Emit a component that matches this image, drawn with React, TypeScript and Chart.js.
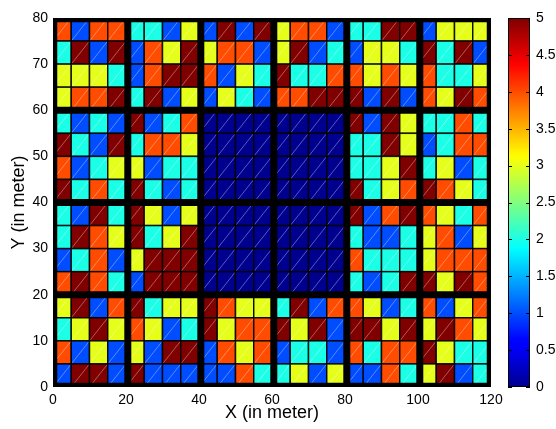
import { useEffect, useRef } from "react";
import { Chart, registerables } from "chart.js";
Chart.register(...registerables);

const xTicks = [0, 20, 40, 60, 80, 100, 120];
const yTicks = [0, 10, 20, 30, 40, 50, 60, 70, 80];
const cbTicks = [0, 0.5, 1, 1.5, 2, 2.5, 3, 3.5, 4, 4.5, 5];
const cellSize = 5;
const blockSize = 20;

// cell values, one array per row of cells (named by the row's lower y), x from 0 to 120
const row75 = [4, 1, 4, 4, 2, 2, 1, 3, 1, 5, 1, 5, 3, 4, 4, 1, 2, 2, 5, 5, 1, 3, 3, 3];
const row70 = [2, 5, 1, 5, 1, 4, 3, 5, 3, 4, 4, 1, 3, 5, 1, 2, 1, 3, 3, 2, 5, 2, 5, 1];
const row65 = [3, 3, 3, 2, 1, 4, 5, 5, 4, 1, 3, 2, 5, 2, 2, 4, 4, 3, 4, 3, 4, 2, 2, 3];
const row60 = [3, 4, 4, 5, 2, 5, 1, 3, 1, 3, 2, 1, 4, 4, 5, 5, 5, 1, 5, 1, 4, 3, 5, 4];
const row55 = [2, 1, 2, 1, 5, 1, 2, 4, 0, 0, 0, 0, 0, 0, 0, 0, 5, 1, 5, 3, 2, 2, 4, 2];
const row50 = [5, 2, 1, 5, 2, 4, 4, 3, 0, 0, 0, 0, 0, 0, 0, 0, 2, 2, 5, 3, 1, 2, 4, 4];
const row45 = [4, 1, 2, 3, 3, 1, 2, 2, 0, 0, 0, 0, 0, 0, 0, 0, 2, 2, 3, 5, 2, 3, 1, 2];
const row40 = [5, 2, 4, 2, 5, 2, 1, 2, 0, 0, 0, 0, 0, 0, 0, 0, 5, 2, 3, 4, 5, 4, 3, 2];
const row35 = [2, 1, 5, 2, 5, 3, 1, 3, 0, 0, 0, 0, 0, 0, 0, 0, 5, 1, 4, 5, 4, 3, 2, 4];
const row30 = [2, 5, 4, 3, 5, 2, 3, 5, 0, 0, 0, 0, 0, 0, 0, 0, 2, 1, 1, 2, 3, 4, 1, 3];
const row25 = [1, 2, 4, 1, 3, 5, 5, 5, 0, 0, 0, 0, 0, 0, 0, 0, 4, 2, 2, 2, 3, 4, 4, 4];
const row20 = [4, 5, 4, 2, 1, 5, 5, 5, 0, 0, 0, 0, 0, 0, 0, 0, 2, 1, 2, 5, 5, 3, 5, 4];
const row15 = [3, 5, 1, 4, 5, 2, 3, 3, 5, 4, 3, 3, 2, 5, 1, 4, 4, 3, 1, 2, 4, 1, 3, 4];
const row10 = [2, 3, 5, 3, 4, 3, 1, 2, 5, 3, 4, 4, 5, 3, 5, 1, 5, 5, 3, 5, 3, 5, 4, 3];
const row5 = [4, 1, 3, 1, 3, 1, 5, 5, 1, 4, 3, 4, 1, 2, 2, 1, 4, 2, 4, 4, 5, 3, 2, 2];
const row0 = [1, 5, 5, 1, 5, 1, 1, 1, 1, 1, 4, 2, 2, 3, 1, 3, 1, 1, 4, 2, 3, 5, 1, 2];

const rows = [row75, row70, row65, row60, row55, row50, row45, row40, row35, row30, row25, row20, row15, row10, row5, row0];
const rowBottoms = [75, 70, 65, 60, 55, 50, 45, 40, 35, 30, 25, 20, 15, 10, 5, 0];

const FONT = "'Liberation Sans', Arial, Helvetica, sans-serif";

function clamp(v: number) {
  return Math.max(0, Math.min(1, v));
}
function jet(v: number) {
  const t = v / 5;
  const r = clamp(Math.min(4 * t - 1.5, -4 * t + 4.5));
  const g = clamp(Math.min(4 * t - 0.5, -4 * t + 3.5));
  const b = clamp(Math.min(4 * t + 0.5625, -4 * t + 2.5));
  return `rgb(${Math.round(r * 255)},${Math.round(g * 255)},${Math.round(b * 255)})`;
}

const heatmapPlugin = {
  id: "heatmap",
  beforeDatasetsDraw(chart: any) {
    const { ctx, chartArea } = chart;
    const x = chart.scales.x;
    const y = chart.scales.y;
    const w = chartArea.right - chartArea.left;
    const h = chartArea.bottom - chartArea.top;
    ctx.save();
    ctx.beginPath();
    ctx.rect(chartArea.left, chartArea.top, w, h);
    ctx.clip();
    rows.forEach((row, ri) => {
      const y0 = rowBottoms[ri];
      row.forEach((v, ci) => {
        const x0 = ci * cellSize;
        const l = x.getPixelForValue(x0);
        const r = x.getPixelForValue(x0 + cellSize);
        const t = y.getPixelForValue(y0 + cellSize);
        const b = y.getPixelForValue(y0);
        ctx.fillStyle = jet(v);
        ctx.fillRect(l, t, r - l, b - t);
        ctx.strokeStyle = "rgba(255,255,255,0.35)";
        ctx.lineWidth = 1;
        ctx.beginPath();
        ctx.moveTo(l, b);
        ctx.lineTo(r, t);
        ctx.stroke();
        ctx.strokeStyle = "rgba(0,0,0,0.85)";
        ctx.lineWidth = 1.5;
        ctx.strokeRect(l, t, r - l, b - t);
      });
    });
    ctx.fillStyle = "#000";
    for (let bx = blockSize; bx < 120; bx += blockSize) {
      const p = x.getPixelForValue(bx) + 1.8;
      ctx.fillRect(p - 3.5, chartArea.top, 7, h);
    }
    for (let by = blockSize; by < 80; by += blockSize) {
      const p = y.getPixelForValue(by);
      ctx.fillRect(chartArea.left, p - 3.5, w, 7);
    }
    // outer frame (inner half visible)
    ctx.strokeStyle = "#000";
    ctx.lineWidth = 8.5;
    ctx.strokeRect(chartArea.left, chartArea.top, w, h);
    ctx.restore();
  },
  afterDraw(chart: any) {
    const { ctx, chartArea } = chart;
    const c = chart.scales.c;
    // colorbar
    const cl = c.left + 17;
    const cr = c.left + 39;
    const top = c.getPixelForValue(5);
    const bot = c.getPixelForValue(0);
    const grad = ctx.createLinearGradient(0, bot, 0, top);
    for (let i = 0; i <= 100; i++) {
      grad.addColorStop(i / 100, jet((i / 100) * 5));
    }
    ctx.save();
    ctx.fillStyle = grad;
    ctx.fillRect(cl, top, cr - cl, bot - top);
    ctx.strokeStyle = "#000";
    ctx.lineWidth = 1;
    ctx.strokeRect(cl + 0.5, top + 0.5, cr - cl - 1, bot - top - 1);
    cbTicks.forEach((tv) => {
      const p = Math.round(c.getPixelForValue(tv)) + 0.5;
      ctx.beginPath();
      ctx.moveTo(cl, p);
      ctx.lineTo(cl + 4, p);
      ctx.moveTo(cr, p);
      ctx.lineTo(cr - 4, p);
      ctx.stroke();
    });
    // axis titles
    ctx.fillStyle = "#000";
    ctx.font = `18px ${FONT}`;
    ctx.textAlign = "center";
    ctx.textBaseline = "middle";
    ctx.fillText("X (in meter)", (chartArea.left + chartArea.right) / 2, 413);
    ctx.translate(19, (chartArea.top + chartArea.bottom) / 2);
    ctx.rotate(-Math.PI / 2);
    ctx.fillText("Y (in meter)", 0, 0);
    ctx.restore();
  },
};

export default function App() {
  const ref = useRef<HTMLCanvasElement>(null);
  useEffect(() => {
    if (!ref.current) return;
    const tickFont = { family: FONT, size: 14 };
    const noPad = (s: any) => {
      s.paddingTop = 0;
      s.paddingBottom = 0;
    };
    const chart = new Chart(ref.current, {
      type: "scatter",
      data: { datasets: [{ data: [], pointRadius: 0 }] },
      options: {
        animation: false,
        responsive: false,
        layout: { padding: { top: 18, left: 0, right: 0, bottom: 0 } },
        plugins: { legend: { display: false }, tooltip: { enabled: false } },
        scales: {
          x: {
            type: "linear",
            min: 0,
            max: 120,
            afterBuildTicks: (s: any) => {
              s.ticks = xTicks.map((v) => ({ value: v }));
            },
            ticks: { font: tickFont, color: "#000", padding: 5, autoSkip: false, maxRotation: 0 },
            grid: { display: false, drawTicks: false },
            border: { display: false },
            afterFit: (s: any) => {
              s.height = 42;
              s.paddingLeft = 0;
              s.paddingRight = 0;
            },
          },
          y: {
            type: "linear",
            position: "left",
            min: 0,
            max: 80,
            afterBuildTicks: (s: any) => {
              s.ticks = yTicks.map((v) => ({ value: v }));
            },
            ticks: { font: tickFont, color: "#000", padding: 5, autoSkip: false },
            grid: { display: false, drawTicks: false },
            border: { display: false },
            afterFit: (s: any) => {
              s.width = 53;
              noPad(s);
            },
          },
          c: {
            type: "linear",
            position: "right",
            min: 0,
            max: 5,
            afterBuildTicks: (s: any) => {
              s.ticks = cbTicks.map((v) => ({ value: v }));
            },
            ticks: {
              font: tickFont,
              color: "#000",
              padding: 45,
              autoSkip: false,
              callback: (v: any) => String(v),
            },
            grid: { display: false, drawTicks: false },
            border: { display: false },
            afterFit: (s: any) => {
              s.width = 65;
              noPad(s);
            },
          },
        },
      },
      plugins: [heatmapPlugin],
    });
    return () => chart.destroy();
  }, []);
  return (
    <div style={{ position: "fixed", left: 0, top: 0, width: 556, height: 429, background: "#fff" }}>
      <canvas ref={ref} width={556} height={429} />
    </div>
  );
}
